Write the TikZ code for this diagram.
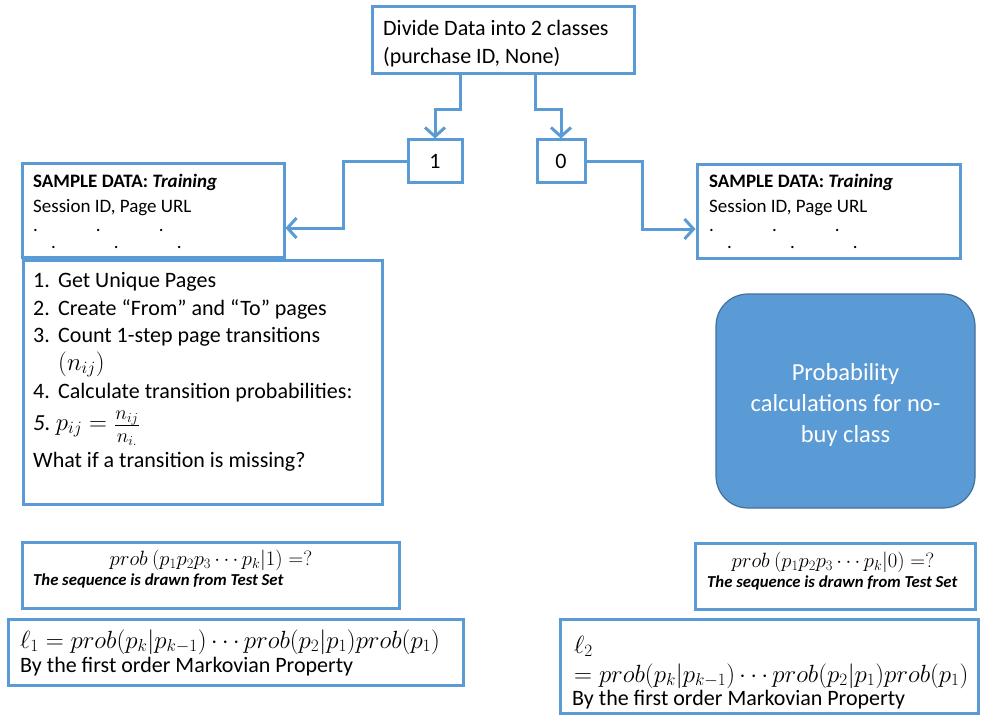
\documentclass[tikz,border=0pt]{standalone}
\usepackage{graphicx}
\usepackage{fontspec}
\setmainfont{Carlito}
\usetikzlibrary{arrows.meta}
\definecolor{boxblue}{HTML}{5B9BD5}
\definecolor{edgeblue}{HTML}{41719C}
\tikzset{
  frame/.style={draw=boxblue, line width=3pt, fill=white, inner sep=0pt},
  conn/.style={draw=boxblue, line width=3pt, -{Straight Barb[length=9pt,width=20pt,line width=3pt]}},
  txt/.style={inner sep=0pt, anchor=base west},
  big/.style={font=\fontsize{22}{28}\selectfont},
  mid/.style={font=\fontsize{19}{24}\selectfont},
  small/.style={font=\fontsize{16.7}{20}\selectfont\bfseries\itshape},
  formula/.style={font=\fontsize{23}{28}\selectfont},
}
\begin{document}
\begin{tikzpicture}[x=1pt, y=-1pt]
\useasboundingbox (0,0) rectangle (981,719);

% boxes
\node[frame, minimum width=262pt, minimum height=67pt] (top) at (503,40.5) {};
\node[frame, minimum width=54pt, minimum height=43pt] (one) at (435,161.5) {};
\node[frame, minimum width=48pt, minimum height=43pt] (zero) at (561,161.5) {};
\node[frame, minimum width=262pt, minimum height=93pt] (lsample) at (153,210.5) {};
\node[frame, minimum width=263pt, minimum height=93pt] (rsample) at (828.5,211.5) {};
\node[frame, minimum width=359pt, minimum height=244pt] (steps) at (202.5,382) {};
\node[draw=edgeblue, line width=1.2pt, fill=boxblue, rounded corners=32pt,
      minimum width=259pt, minimum height=214pt] (nobuy) at (845.5,401) {};
\node[frame, minimum width=377pt, minimum height=66pt] (lprob) at (210.5,575) {};
\node[frame, minimum width=280pt, minimum height=66pt] (rprob) at (835,576) {};
\node[frame, minimum width=455pt, minimum height=66pt] (lone) at (235.5,652) {};
\node[frame, minimum width=418pt, minimum height=94pt] (ltwo) at (769,666) {};

% connectors
\draw[conn] (top.south west) ++(90,0) -- ++(0,34) -| (one.north);
\draw[conn] (top.south west) ++(165,0) -- ++(0,34) -| (zero.north);
\draw[conn] (one.west) -- ++(-63,0) |- ([yshift=-17.5pt]lsample.east);
\draw[conn] (zero.east) -- ++(56,0) |- ([yshift=-17.5pt]rsample.west);

% texts of the top part
\node[txt, big] (toptext1) at (383,36) {Divide Data into 2 classes};
\node[txt, big] (toptext2) at (383,64) {(purchase ID, None)};
\node[big] (onetext) at (one) {1};
\node[big] (zerotext) at (zero) {0};

% training data boxes
\node[txt, mid] (lsample1) at (33,188) {\textbf{SAMPLE DATA: \textit{Training}}};
\node[txt, mid] (lsample2) at (33,213) {Session ID, Page URL};
\node[txt, mid] (ldots1) at (33,231) {.\hspace{58pt}.\hspace{58pt}.};
\node[txt, mid] (ldots2) at (51,248) {.\hspace{58pt}.\hspace{58pt}.};
\node[txt, mid] (rsample1) at (709,188) {\textbf{SAMPLE DATA: \textit{Training}}};
\node[txt, mid] (rsample2) at (709,213) {Session ID, Page URL};
\node[txt, mid] (rdots1) at (709,231) {.\hspace{58pt}.\hspace{58pt}.};
\node[txt, mid] (rdots2) at (727,248) {.\hspace{58pt}.\hspace{58pt}.};

% steps of the estimation
\node[txt, big] (step1) at (33,287) {\makebox[25pt][l]{1.}Get Unique Pages};
\node[txt, big] (step2) at (33,315) {\makebox[25pt][l]{2.}Create “From” and “To” pages};
\node[txt, big] (step3) at (33,342) {\makebox[25pt][l]{3.}Count 1-step page transitions};
\node[txt, formula] (step3b) at (58,370) {$(n_{ij})$};
\node[txt, big] (step4) at (33,398) {\makebox[25pt][l]{4.}Calculate transition probabilities:};
\node[txt, formula] (step5) at (33,430)
  {\textit{5.}\ $p_{ij}=\raisebox{-0.25ex}{\scalebox{1.15}{$\frac{n_{ij}}{n_{i.}}$}}$};
\node[txt, big] (step6) at (33,467) {What if a transition is missing?};

% no-buy class
\node[font=\fontsize{24.5}{31}\selectfont, text=white, align=center, inner sep=0pt] (nobuytext)
  at ([yshift=-3.5pt]nobuy.center) {Probability\\calculations for no-\\buy class};

% test-set probabilities
\node[inner sep=0pt, anchor=base, formula] (lprobmath) at (211,565)
  {\scalebox{0.83}{$prob\ (p_1p_2p_3\cdots p_k|1)=?$}};
\node[txt, small] (lprobnote) at (33,585) {The sequence is drawn from Test Set};
\node[inner sep=0pt, anchor=base, formula] (rprobmath) at (833,567)
  {\scalebox{0.83}{$prob\ (p_1p_2p_3\cdots p_k|0)=?$}};
\node[txt, small] (rprobnote) at (707,587) {The sequence is drawn from Test Set};

% likelihoods
\node[txt, formula] (lonemath) at (20,648)
  {$\ell_1=prob(p_k|p_{k-1})\cdots prob(p_2|p_1)prob(p_1)$};
\node[txt, big] (lonenote) at (20,672) {By the first order Markovian Property};
\node[txt, formula] (ltwomath1) at (574,653) {$\ell_2$};
\node[txt, formula] (ltwomath2) at (574,682)
  {$=prob(p_k|p_{k-1})\cdots prob(p_2|p_1)prob(p_1)$};
\node[txt, big] (ltwonote) at (572,705) {By the first order Markovian Property};
\end{tikzpicture}
\end{document}
